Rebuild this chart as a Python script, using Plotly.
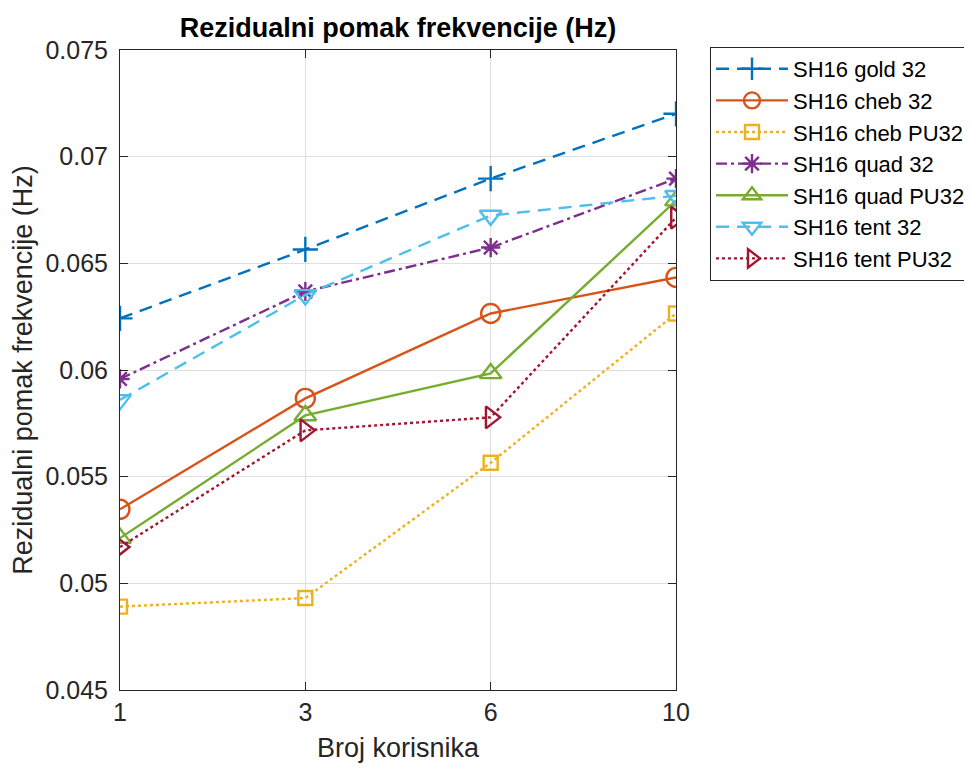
import plotly.graph_objects as go

# Broj korisnika (kategorije na x osi)
korisnici = ["1", "3", "6", "10"]

gold_32 = [0.06242, 0.06565, 0.06897, 0.07201]
cheb_32 = [0.05347, 0.05867, 0.06265, 0.06434]
cheb_pu32 = [0.04891, 0.04931, 0.05565, 0.06265]
quad_32 = [0.05958, 0.06368, 0.06574, 0.06897]
quad_pu32 = [0.05212, 0.05787, 0.05984, 0.06794]
tent_32 = [0.05860, 0.06352, 0.06724, 0.06817]
tent_pu32 = [0.05170, 0.05717, 0.05778, 0.06714]

y_ticks = [0.045, 0.05, 0.055, 0.06, 0.065, 0.07, 0.075]
y_tick_text = ["0.045", "0.05", "0.055", "0.06", "0.065", "0.07", "0.075"]

serije = [
    ("SH16 gold 32", gold_32, "#0072BD", "13px,8px", "cross-thin-open", 18),
    ("SH16 cheb 32", cheb_32, "#D95319", "solid", "circle-open", 19),
    ("SH16 cheb PU32", cheb_pu32, "#EDB120", "3px,3px", "square-open", 14),
    ("SH16 quad 32", quad_32, "#7E2F8E", "11px,4px,3px,4px", "asterisk-open", 16),
    ("SH16 quad PU32", quad_pu32, "#77AC30", "solid", "triangle-up-open", 19),
    ("SH16 tent 32", tent_32, "#4DBEEE", "13px,8px", "triangle-down-open", 19),
    ("SH16 tent PU32", tent_pu32, "#A2142F", "3px,3px", "triangle-right-open", 19),
]

fig = go.Figure()

for ime, vrijednosti, boja, crta, marker, velicina in serije:
    fig.add_trace(go.Scatter(
        x=korisnici,
        y=vrijednosti,
        mode="lines+markers",
        name=ime,
        legendgroup=ime,
        line=dict(color=boja, width=2.4, dash=crta),
        marker=dict(symbol=marker, size=velicina, color=boja,
                    line=dict(color=boja, width=2.4)),
    ))

# stranica ima 8px margine tijela, pa je slika manja za 8px
fig.update_layout(
    width=964,
    height=761,
    paper_bgcolor="white",
    plot_bgcolor="white",
    font=dict(family="Liberation Sans, Arial, sans-serif", size=25, color="#262626"),
    title=dict(text="<b>Rezidualni pomak frekvencije (Hz)</b>",
               x=390 / 964, xanchor="center",
               y=1 - 20 / 761, yanchor="middle",
               font=dict(size=27, color="black")),
    margin=dict(l=112, r=296, t=42, b=79, autoexpand=False),
    showlegend=True,
    legend=dict(
        xref="container", yref="container",
        x=702 / 964, y=1 - 39 / 761, xanchor="left", yanchor="top",
        bordercolor="#262626", borderwidth=1, bgcolor="white",
        font=dict(size=22, color="black"),
        tracegroupgap=0, itemwidth=72,
    ),
)

fig.update_xaxes(
    type="category",
    range=[0, 3],
    title=dict(text="Broj korisnika", font=dict(size=27), standoff=13),
    showgrid=True, gridcolor="#DFDFDF", gridwidth=1,
    showline=True, linecolor="#262626", linewidth=1, mirror="allticks",
    ticks="inside", ticklen=8, tickcolor="#262626",
    zeroline=False,
)

fig.update_yaxes(
    range=[0.045, 0.075],
    tickvals=y_ticks,
    ticktext=y_tick_text,
    title=dict(text="Rezidualni pomak frekvencije (Hz)", font=dict(size=27), standoff=8),
    showgrid=True, gridcolor="#DFDFDF", gridwidth=1,
    showline=True, linecolor="#262626", linewidth=1, mirror="allticks",
    ticks="inside", ticklen=8, tickcolor="#262626",
    ticklabelstandoff=6,
    zeroline=False,
)

fig.write_html("out.html")
